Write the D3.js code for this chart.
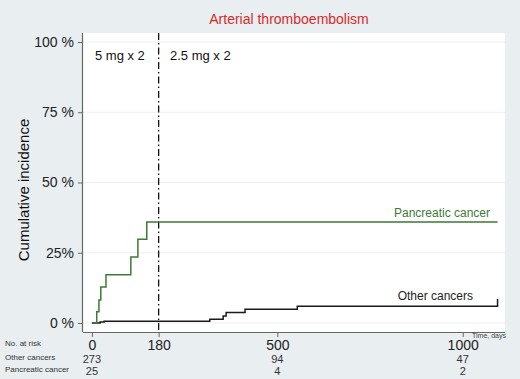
<!DOCTYPE html>
<html>
<head>
<meta charset="utf-8">
<script src="https://cdn.jsdelivr.net/npm/d3@7"></script>
<style>
  body { margin: 0; background: #fff; }
  svg text { font-family: "Liberation Sans", Arial, sans-serif; }
</style>
</head>
<body>
<div id="chart"></div>
<script>
// values
var timeTicks = [0, 180, 500, 1000];
var pctTicks = [0, 25, 50, 75, 100];
var pctLabels = ["0 %", "25%", "50 %", "75 %", "100 %"];

var pancDays = [0, 13, 19, 24, 38, 105, 124, 148, 1094];
var pancInc = [0, 4.0, 8.2, 12.8, 17.2, 23.5, 29.8, 35.9, 35.9];

var otherDays = [0, 22, 33, 318, 354, 362, 413, 554, 1094];
var otherInc = [0, 0.4, 0.6, 1.3, 2.5, 3.7, 4.9, 6.0, 8.5];

var riskGroups = ["Other cancers", "Pancreatic cancer"];
var riskTimes = [0, 500, 1000];
var otherRisk = [273, 94, 47];
var pancRisk = [25, 4, 2];

var switchDay = 180;

var W = 520, H = 379,
    pLeft = 83, pRight = 505, pTop = 33, pBottom = 332;

var svg = d3.select("#chart").append("svg")
  .attr("width", W)
  .attr("height", H);

svg.append("rect").attr("width", W).attr("height", H).attr("fill", "#e9eef1");
svg.append("rect")
  .attr("x", pLeft).attr("y", pTop)
  .attr("width", pRight - pLeft).attr("height", pBottom - pTop)
  .attr("fill", "#fff");

var x = d3.scaleLinear().domain([0, 1000]).range([91.9, 462.7]);
var y = d3.scaleLinear().domain([0, 100]).range([323, 42]);

// grid
svg.append("g").selectAll("line")
  .data(pctTicks)
  .enter().append("line")
  .attr("x1", pLeft).attr("x2", pRight)
  .attr("y1", function(d) { return y(d); })
  .attr("y2", function(d) { return y(d); })
  .attr("stroke", "#eceff2")
  .attr("stroke-width", 1);

// y axis
var yAxis = d3.axisLeft(y)
  .tickValues(pctTicks)
  .tickFormat(function(d, i) { return pctLabels[i]; })
  .tickSize(5)
  .tickPadding(4);
var gy = svg.append("g").attr("transform", "translate(" + pLeft + ",0)").call(yAxis);
gy.select(".domain").attr("d", "M-0.5," + pTop + "V" + pBottom).attr("stroke", "#666").attr("stroke-width", 1.2);
gy.selectAll(".tick line").attr("stroke", "#666");
gy.selectAll(".tick text").attr("font-size", 14).attr("fill", "#222");

// x axis
var xAxis = d3.axisBottom(x)
  .tickValues(timeTicks)
  .tickFormat(d3.format("d"))
  .tickSize(5)
  .tickPadding(3);
var gx = svg.append("g").attr("transform", "translate(0," + pBottom + ")").call(xAxis);
gx.select(".domain").attr("d", "M" + pLeft + ",0.5H" + pRight).attr("stroke", "#666").attr("stroke-width", 1.2);
gx.selectAll(".tick line").attr("stroke", "#666");
gx.selectAll(".tick text").attr("font-size", 14).attr("fill", "#222");

svg.append("text")
  .attr("x", 506).attr("y", 338)
  .attr("text-anchor", "end")
  .attr("font-size", 7)
  .attr("fill", "#444")
  .text("Time, days");

// dose switch line
svg.append("line")
  .attr("x1", x(switchDay)).attr("x2", x(switchDay))
  .attr("y1", pTop).attr("y2", pBottom)
  .attr("stroke", "#111")
  .attr("stroke-width", 1.3)
  .attr("stroke-dasharray", "7,3,1.5,3");

svg.append("text").attr("x", 95).attr("y", 60)
  .attr("font-size", 13).attr("fill", "#111").text("5 mg x 2");
svg.append("text").attr("x", 170).attr("y", 60)
  .attr("font-size", 13).attr("fill", "#111").text("2.5 mg x 2");

// curves
var line = d3.line()
  .x(function(d) { return x(d[0]); })
  .y(function(d) { return y(d[1]); })
  .curve(d3.curveStepAfter);

svg.append("path")
  .datum(d3.zip(otherDays, otherInc))
  .attr("d", line)
  .attr("fill", "none")
  .attr("stroke", "#1a1a1a")
  .attr("stroke-width", 1.5);

svg.append("path")
  .datum(d3.zip(pancDays, pancInc))
  .attr("d", line)
  .attr("fill", "none")
  .attr("stroke", "#3d7a35")
  .attr("stroke-width", 1.5);

svg.append("text").attr("x", 490).attr("y", 217)
  .attr("text-anchor", "end").attr("font-size", 12)
  .attr("fill", "#3d7a35").text("Pancreatic cancer");
svg.append("text").attr("x", 473).attr("y", 300)
  .attr("text-anchor", "end").attr("font-size", 12)
  .attr("fill", "#222").text("Other cancers");

// titles
svg.append("text")
  .attr("x", 289).attr("y", 24)
  .attr("text-anchor", "middle")
  .attr("font-size", 14)
  .attr("fill", "#d62b2b")
  .text("Arterial thromboembolism");

svg.append("text")
  .attr("transform", "translate(29,190) rotate(-90)")
  .attr("text-anchor", "middle")
  .attr("font-size", 15)
  .attr("fill", "#111")
  .text("Cumulative incidence");

// number at risk
svg.append("text").attr("x", 5).attr("y", 346)
  .attr("font-size", 8).attr("fill", "#333").text("No. at risk");
var riskRows = [otherRisk, pancRisk];
riskGroups.forEach(function(g, r) {
  var yy = 360 + r * 12;
  svg.append("text").attr("x", 5).attr("y", yy)
    .attr("font-size", 8).attr("fill", "#333").text(g);
  svg.append("g").selectAll("text")
    .data(riskRows[r])
    .enter().append("text")
    .attr("x", function(d, i) { return x(riskTimes[i]); })
    .attr("y", yy + 3)
    .attr("text-anchor", "middle")
    .attr("font-size", 11)
    .attr("fill", "#333")
    .text(function(d) { return d; });
});
</script>
</body>
</html>
